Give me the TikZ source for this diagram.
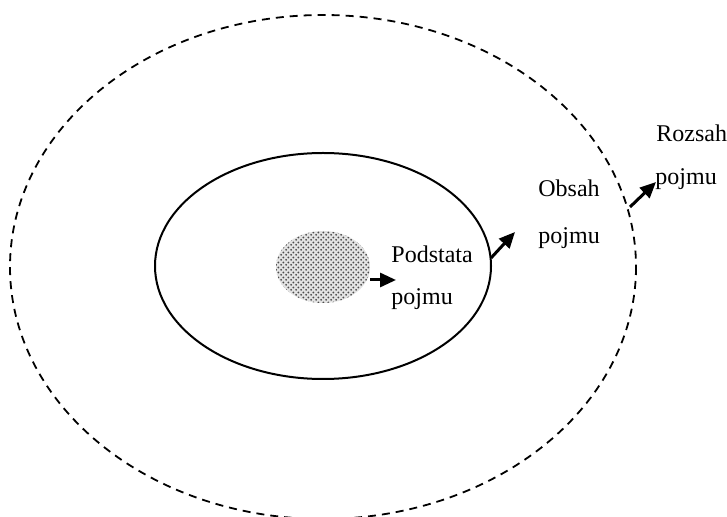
\documentclass[tikz,border=0pt]{standalone}
\usepackage{fontspec}
\setmainfont{Liberation Serif}
\usetikzlibrary{shapes.geometric,arrows.meta,patterns}
% staggered halftone dots for the core
\pgfdeclarepatternformonly{halftone}{\pgfpointorigin}{\pgfpoint{2.6pt}{2.4pt}}{\pgfpoint{2.6pt}{2.4pt}}{%
  \pgfpathcircle{\pgfpoint{0.65pt}{0.6pt}}{0.55pt}%
  \pgfpathcircle{\pgfpoint{1.95pt}{1.8pt}}{0.55pt}%
  \pgfusepath{fill}}
\begin{document}
\begin{tikzpicture}[x=0.5pt,y=-0.5pt,
  label/.style={anchor=base west,inner sep=0pt,font=\fontsize{12}{14}\selectfont},
  pointer/.style={line width=1.5pt,-{Triangle[length=8pt,width=7pt]}}]
\useasboundingbox (0,0) rectangle (727,517);
% scope of the concept (dashed), content (solid), essence (dotted core)
\draw[line width=0.9pt,dash pattern=on 4pt off 3pt] (323,267) ellipse [x radius=313,y radius=252];
\draw[line width=1pt] (323,266) ellipse [x radius=168,y radius=113];
\fill[gray!22] (323,267) ellipse [x radius=47,y radius=36];
\fill[pattern=halftone,pattern color=black!70] (323,267) ellipse [x radius=47,y radius=36];
% labels
\node[label] (podstataA) at (391,263) {Podstata};
\node[label] (podstataB) at (391,305) {pojmu};
\node[label] (obsahA) at (538,197) {Obsah};
\node[label] (obsahB) at (538,244) {pojmu};
\node[label] (rozsahA) at (656,142) {Rozsah};
\node[label] (rozsahB) at (655,185) {pojmu};
% arrow end points
\coordinate (a1s) at (370,280); \coordinate (a1e) at (396,280);
\coordinate (a2s) at (491,258); \coordinate (a2e) at (515,232);
\coordinate (a3s) at (630,207); \coordinate (a3e) at (656,182);
\draw[pointer] (a1s) -- (a1e);
\draw[pointer] (a2s) -- (a2e);
\draw[pointer] (a3s) -- (a3e);
\end{tikzpicture}
\end{document}
